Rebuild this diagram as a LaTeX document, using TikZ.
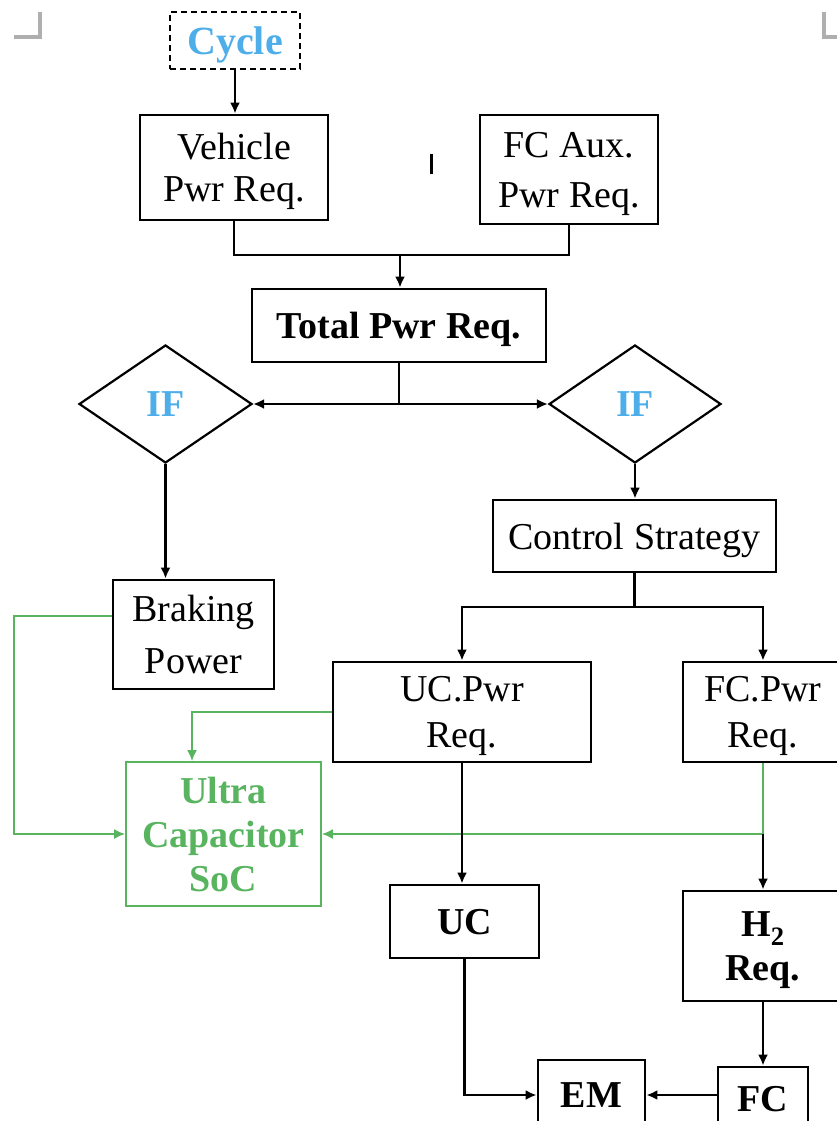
\documentclass[tikz,border=0pt]{standalone}
\usepackage{fontspec}
\setmainfont{Liberation Serif}
\usetikzlibrary{shapes.geometric,arrows.meta}
\definecolor{ifblue}{RGB}{77,174,234}
\definecolor{socgreen}{RGB}{88,180,95}
\definecolor{markgray}{RGB}{175,175,175}
\begin{document}
\begin{tikzpicture}[x=1pt,y=-1pt,
  font=\fontsize{38}{46}\selectfont,
  box/.style={draw, line width=2.8pt, inner sep=0pt, align=center, text depth=0pt},
  greenbox/.style={draw=socgreen, line width=1.8pt, inner sep=0pt, align=center, text depth=0pt, text=socgreen, font=\fontsize{38}{44}\selectfont\bfseries},
  ifshape/.style={draw, diamond, line width=2.2pt, inner sep=0pt, text depth=0pt, text=ifblue, font=\fontsize{38}{46}\selectfont\bfseries},
  conn/.style={line width=2.3pt},
  arr/.style={line width=2.3pt, -{Latex[length=11pt,width=10pt]}},
  gconn/.style={draw=socgreen, line width=1.8pt},
  garr/.style={draw=socgreen, line width=1.8pt, -{Latex[length=11pt,width=10pt]}, socgreen},
  cornermark/.style={draw=markgray, line width=4pt}
]
\useasboundingbox (0,0) rectangle (837,1121);
\clip (0,0) rectangle (837,1121);

% corner marks
\draw[cornermark] (14,37) -- (40,37) -- (40,12);
\draw[cornermark] (840,37) -- (824,37) -- (824,12);
\draw[line width=3pt] (431,154) -- (431,174);

% nodes
\node[draw, dash pattern=on 6pt off 4pt, line width=1.3pt, inner sep=0pt, minimum width=130pt, minimum height=57pt, text depth=0pt,
      text=ifblue, font=\fontsize{40}{46}\selectfont\bfseries] (cycle) at (235,40.5) {Cycle};
\node[box, minimum width=188pt, minimum height=105pt, font=\fontsize{38}{42}\selectfont] (veh) at (234,167.5) {Vehicle\\Pwr Req.};
\node[box, minimum width=178pt, minimum height=109pt, font=\fontsize{38}{50}\selectfont] (aux) at (569,169.5) {FC Aux.\\Pwr Req.};
\node[box, minimum width=294pt, minimum height=73pt, font=\fontsize{38}{46}\selectfont\bfseries] (total) at (399,325.5) {Total Pwr Req.};
\node[ifshape, minimum width=173pt, minimum height=118pt] (ifL) at (165.5,404) {IF};
\node[ifshape, minimum width=172pt, minimum height=118pt] (ifR) at (635,404) {IF};
\node[box, minimum width=283pt, minimum height=72pt] (ctrl) at (634.5,536) {Control Strategy};
\node[box, minimum width=161pt, minimum height=109pt, font=\fontsize{38}{52}\selectfont] (brak) at (193.5,634.5) {Braking\\Power};
\node[box, minimum width=258pt, minimum height=100pt] (ucp) at (462,712) {UC.Pwr\\Req.};
\node[box, minimum width=160pt, minimum height=100pt] (fcp) at (763,712) {FC.Pwr\\Req.};
\node[greenbox, minimum width=195pt, minimum height=144pt] (soc) at (223.5,834) {Ultra\\Capacitor\\SoC};
\node[box, minimum width=149pt, minimum height=73pt, font=\fontsize{38}{46}\selectfont\bfseries] (uc) at (464.5,921.5) {UC};
\node[box, minimum width=160pt, minimum height=110pt, font=\fontsize{38}{44}\selectfont\bfseries] (h2) at (763,946) {H\textsubscript{2}\\Req.};
\node[box, minimum width=107pt, minimum height=70pt, font=\fontsize{38}{46}\selectfont\bfseries] (em) at (591.5,1095) {EM};
\node[box, minimum width=90pt, minimum height=63pt, font=\fontsize{38}{46}\selectfont\bfseries] (fc) at (763,1098.5) {FC};

% connectors
\draw[arr] (cycle.south) -- (cycle.south |- veh.north);
\coordinate (jn) at (400,255);
\draw[conn] (veh.south) |- (jn);
\draw[conn] (aux.south) |- (jn);
\draw[arr] (jn) -- (jn |- total.north);
\coordinate (tj) at (total.south |- ifL.east);
\draw[conn] (total.south) -- (tj);
\draw[arr] (tj) -- (ifL.east);
\draw[arr] (tj) -- (ifR.west);
\draw[arr] (ifL.south) -- (ifL.south |- brak.north);
\draw[arr] (ifR.south) -- (ifR.south |- ctrl.north);
\coordinate (cj) at (634.5,607);
\draw[conn] (ctrl.south) -- (cj);
\draw[arr] (cj) -| (ucp.north);
\draw[arr] (cj) -| (fcp.north);

% green connectors
\draw[garr] ([yshift=18.5pt]brak.west) -- (14,616) |- (soc.west);
\draw[garr] (ucp.west) -| ([xshift=-31.5pt]soc.north);
\coordinate (fj) at (fcp.south |- soc.east);
\draw[gconn] (fcp.south) -- (fj);
\draw[garr] (fj) -- (soc.east);
\draw[arr] (fj) -- (h2.north);

\draw[arr] (ucp.south) -- (ucp.south |- uc.north);
\draw[arr] (uc.south) |- (em.west);
\draw[arr] (h2.south) -- (h2.south |- fc.north);
\draw[arr] (em.east -| fc.west) -- (em.east);
\end{tikzpicture}
\end{document}
